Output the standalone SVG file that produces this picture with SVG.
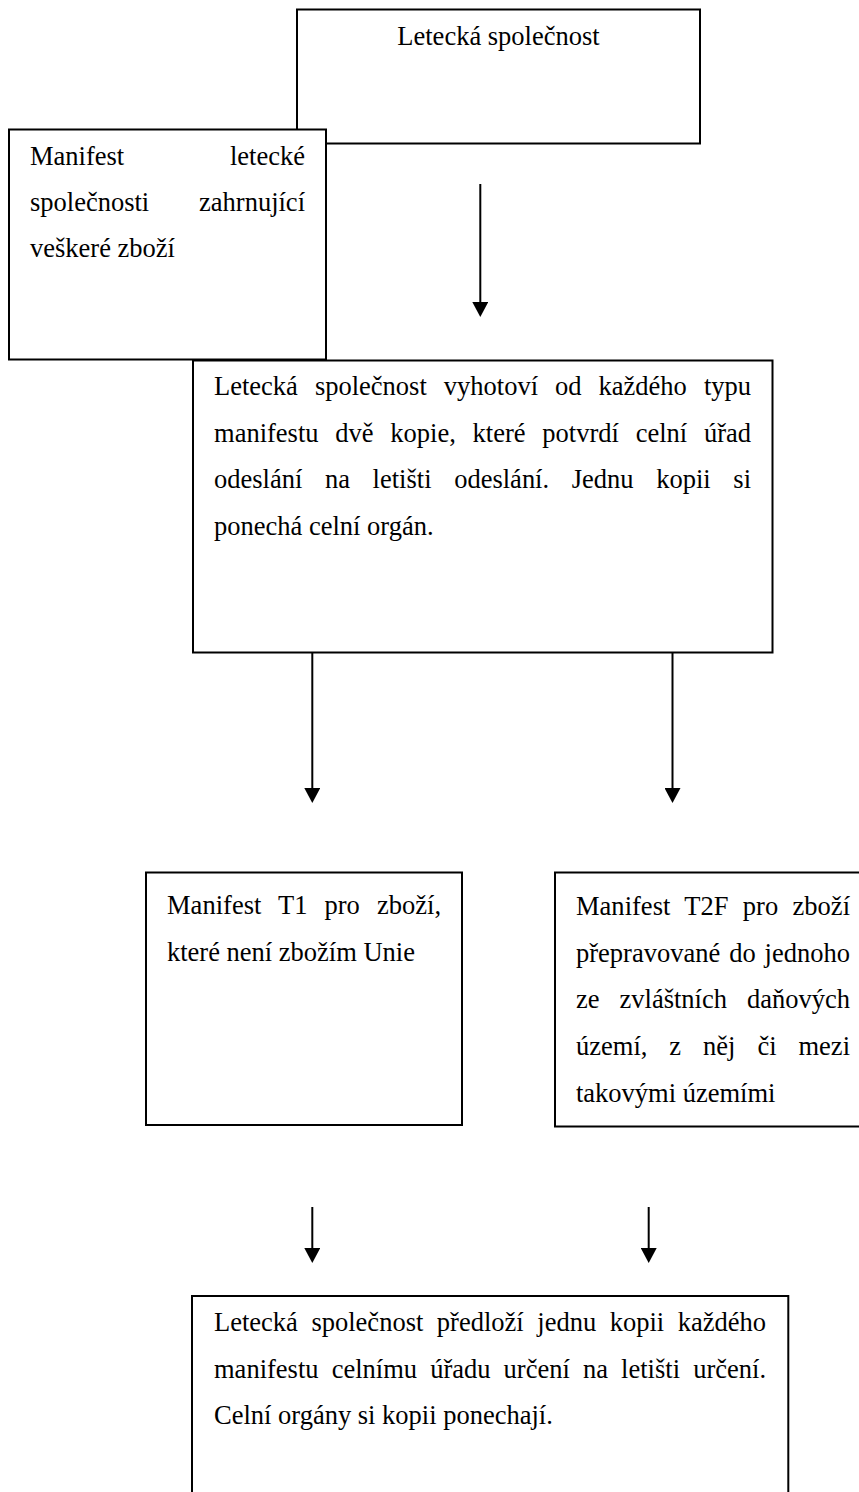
<svg xmlns="http://www.w3.org/2000/svg" width="859" height="1492" viewBox="0 0 859 1492">
  <style>
    .box { fill: #ffffff; stroke: #000000; stroke-width: 2; }
    .txt { font-family: "Liberation Serif", "Times New Roman", serif; font-size: 26.5px; fill: #000000; }
    .end { text-anchor: end; }
    .mid { text-anchor: middle; }
    .conn { stroke: #000000; stroke-width: 2; fill: none; marker-end: url(#head); }
  </style>
  <defs>
    <marker id="head" markerUnits="userSpaceOnUse" viewBox="0 0 15 16" markerWidth="15" markerHeight="16" refX="0" refY="8" orient="auto">
      <path d="M0,0 L15,8 L0,16 Z" fill="#000000"/>
    </marker>
  </defs>
  <rect width="859" height="1492" fill="#ffffff"/>

  <!-- carrier -->
  <g id="airline">
    <rect class="box" x="297" y="9.5" width="403" height="134"/>
    <text class="txt mid" x="498.5" y="45">Letecká společnost</text>
  </g>

  <!-- manifest covering all goods -->
  <g id="manifest">
    <rect class="box" x="9" y="129.5" width="317" height="230"/>
    <text class="txt" x="30" y="164.5">Manifest</text>
    <text class="txt end" x="305" y="164.5">letecké</text>
    <text class="txt" x="30" y="211">společnosti</text>
    <text class="txt end" x="305" y="211">zahrnující</text>
    <text class="txt" x="30" y="257">veškeré zboží</text>
  </g>

  <!-- two copies confirmed at departure -->
  <g id="copies">
    <rect class="box" x="193" y="360.5" width="579.5" height="292"/>
    <text class="txt" x="214" y="395" word-spacing="10.4" textLength="537" lengthAdjust="spacing">Letecká společnost vyhotoví od každého typu</text>
    <text class="txt" x="214" y="441.7" word-spacing="10.1" textLength="537" lengthAdjust="spacing">manifestu dvě kopie, které potvrdí celní úřad</text>
    <text class="txt" x="214" y="488.3" word-spacing="16" textLength="537" lengthAdjust="spacing">odeslání na letišti odeslání. Jednu kopii si</text>
    <text class="txt" x="214" y="535">ponechá celní orgán.</text>
  </g>

  <!-- T1 manifest -->
  <g id="t1">
    <rect class="box" x="146" y="872.5" width="316" height="252.5"/>
    <text class="txt" x="167" y="914" word-spacing="10.4" textLength="274" lengthAdjust="spacing">Manifest T1 pro zboží,</text>
    <text class="txt" x="167" y="960.5">které není zbožím Unie</text>
  </g>

  <!-- T2F manifest -->
  <g id="t2f">
    <rect class="box" x="555" y="872.5" width="330" height="254"/>
    <text class="txt" x="576" y="915" word-spacing="7.7" textLength="274" lengthAdjust="spacing">Manifest T2F pro zboží</text>
    <text class="txt" x="576" y="961.7" word-spacing="2.3" textLength="274" lengthAdjust="spacing">přepravované do jednoho</text>
    <text class="txt" x="576" y="1008.3" word-spacing="13.3" textLength="274" lengthAdjust="spacing">ze zvláštních daňových</text>
    <text class="txt" x="576" y="1055" word-spacing="15.3" textLength="274" lengthAdjust="spacing">území, z něj či mezi</text>
    <text class="txt" x="576" y="1101.7">takovými územími</text>
  </g>

  <!-- copy presented at destination -->
  <g id="destination">
    <rect class="box" x="192" y="1296" width="596.3" height="220"/>
    <text class="txt" x="214" y="1331" word-spacing="6.9" textLength="552" lengthAdjust="spacing">Letecká společnost předloží jednu kopii každého</text>
    <text class="txt" x="214" y="1377.5" word-spacing="6.5" textLength="552" lengthAdjust="spacing">manifestu celnímu úřadu určení na letišti určení.</text>
    <text class="txt" x="214" y="1424">Celní orgány si kopii ponechají.</text>
  </g>

  <!-- arrows -->
  <g id="connectors">
    <line class="conn" x1="480.3" y1="184" x2="480.3" y2="302"/>
    <line class="conn" x1="312.3" y1="653" x2="312.3" y2="788"/>
    <line class="conn" x1="672.5" y1="653" x2="672.5" y2="788"/>
    <line class="conn" x1="312.3" y1="1207" x2="312.3" y2="1248"/>
    <line class="conn" x1="648.7" y1="1207" x2="648.7" y2="1248"/>
  </g>
</svg>
